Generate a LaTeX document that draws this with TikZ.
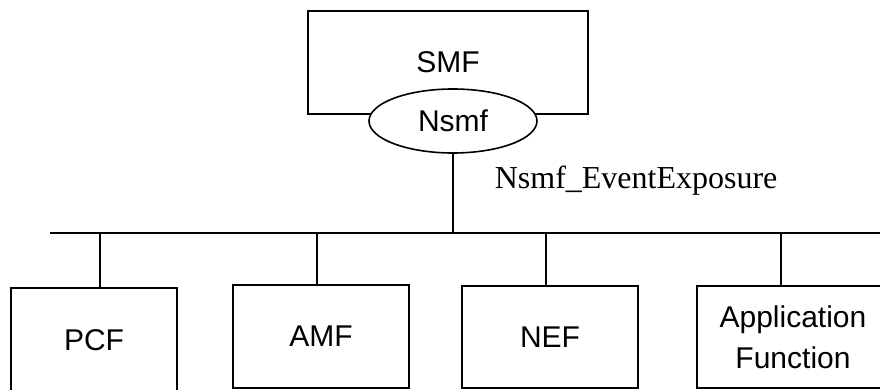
\documentclass[tikz,border=0pt]{standalone}
\usepackage{fontspec}
\setmainfont{Liberation Sans}
\newfontfamily\timesfont{Liberation Serif}
\usetikzlibrary{shapes.geometric}
\tikzstyle{nf} = [draw, rectangle, inner sep=0, font=\fontsize{30}{41}\selectfont, align=center]
\tikzstyle{svc} = [draw, ellipse, fill=white, inner sep=0, minimum width=168, minimum height=64, font=\fontsize{30}{36}\selectfont]

\begin{document}
\begin{tikzpicture}[x=1pt,y=-1pt,line width=1.6pt]
\useasboundingbox (0,0) rectangle (880,390);

\node[nf, minimum width=280, minimum height=103] (smf) at (448,62.5) {SMF};
\node[svc] (nsmf) at (453,121) {Nsmf};

\coordinate (busL) at (50,233);
\coordinate (busR) at (880,233);

\node[nf, minimum width=166, minimum height=104] (pcf) at (94,340) {PCF};
\node[nf, minimum width=176, minimum height=103] (amf) at (321,336.5) {AMF};
\node[nf, minimum width=176, minimum height=102] (nef) at (550,337) {NEF};
\node[nf, minimum width=192, minimum height=102] (af) at (793,337) {Application\\Function};

\node[anchor=base west, inner sep=0, font=\timesfont\fontsize{32}{38}\selectfont] (lbl) at (494,189) {Nsmf\_EventExposure};

\draw (busL) -- (busR);
\draw (nsmf.south) -- (nsmf.south |- busL);
\draw ([xshift=6pt]pcf.north) -- ([xshift=6pt]pcf.north |- busL);
\draw ([xshift=-4pt]amf.north) -- ([xshift=-4pt]amf.north |- busL);
\draw ([xshift=-4pt]nef.north) -- ([xshift=-4pt]nef.north |- busL);
\draw ([xshift=-12pt]af.north) -- ([xshift=-12pt]af.north |- busL);
\end{tikzpicture}
\end{document}
